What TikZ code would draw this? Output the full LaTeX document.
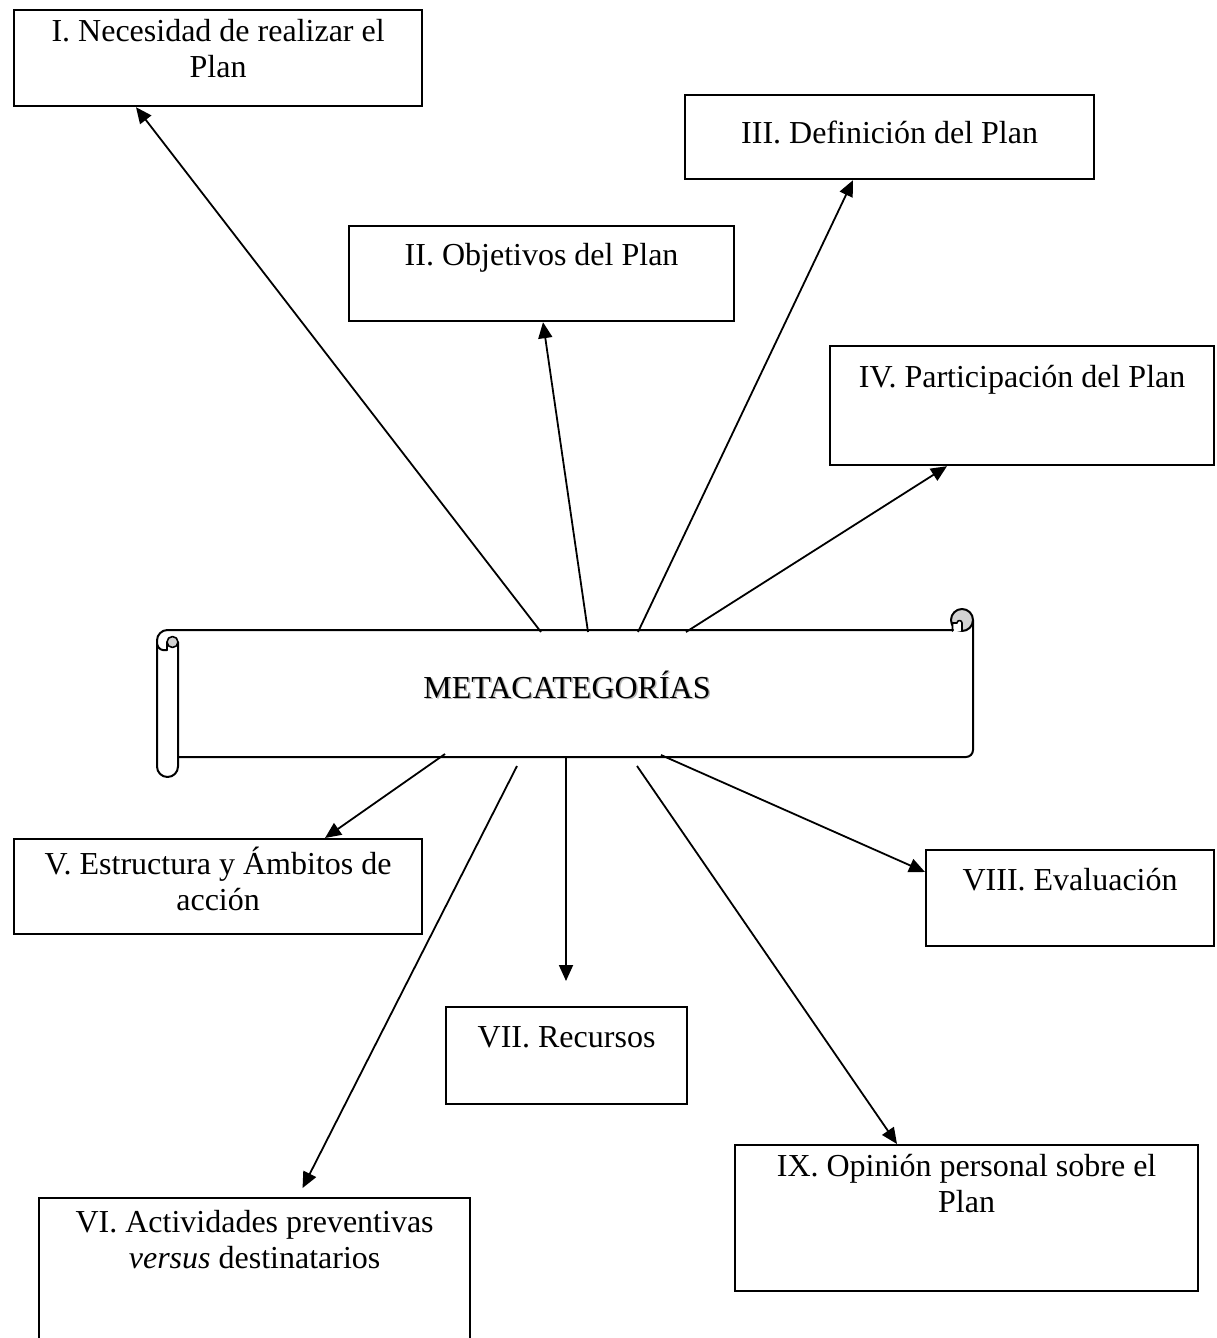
\documentclass[tikz,border=0pt]{standalone}
\usepackage{fontspec}
\setmainfont{Liberation Serif}
\usetikzlibrary{arrows.meta,calc}
\begin{document}
\begin{tikzpicture}[x=1pt,y=-1pt,
  box/.style={draw, line width=2.2pt, inner sep=0pt, anchor=north west},
  lbl/.style={anchor=north, inner sep=0pt, align=center,
    font=\fontsize{32}{36}\selectfont, execute at begin node={\rule{0pt}{30pt}}},
  arr/.style={line width=1.8pt, -{Triangle[length=16pt,width=14pt]}},
  scroll/.style={line width=2pt, line join=round, line cap=round},
  curl/.style={scroll, fill=gray!35}]
\useasboundingbox (0,0) rectangle (1216,1338);

% ---- category boxes ----
\node[box, minimum width=408pt, minimum height=96pt]  (b1) at (13,9) {};
\node[box, minimum width=385pt, minimum height=95pt]  (b2) at (348,225) {};
\node[box, minimum width=409pt, minimum height=84pt]  (b3) at (684,94) {};
\node[box, minimum width=384pt, minimum height=119pt] (b4) at (829,345) {};
\node[box, minimum width=408pt, minimum height=95pt]  (b5) at (13,838) {};
\node[box, minimum width=431pt, minimum height=141pt] (b6) at (38,1197) {};
\node[box, minimum width=241pt, minimum height=97pt]  (b7) at (445,1006) {};
\node[box, minimum width=288pt, minimum height=96pt]  (b8) at (925,849) {};
\node[box, minimum width=463pt, minimum height=146pt] (b9) at (734,1144) {};

\node[lbl] (t1) at ($(b1.north)+(0,10)$) {I. Necesidad de realizar el\\Plan};
\node[lbl] (t2) at ($(b2.north)+(0,10)$) {II. Objetivos del Plan};
\node[lbl] (t3) at ($(b3.north)+(0,19)$) {III. Definición del Plan};
\node[lbl] (t4) at ($(b4.north)+(0,12)$) {IV. Participación del Plan};
\node[lbl] (t5) at ($(b5.north)+(0,9)$)  {V. Estructura y Ámbitos de\\acción};
\node[lbl] (t6) at ($(b6.north)+(0,13)$) {VI. Actividades preventivas\\\textit{versus} destinatarios};
\node[lbl] (t7) at ($(b7.north)+(0,11)$) {VII. Recursos};
\node[lbl] (t8) at ($(b8.north)+(0,11)$) {VIII. Evaluación};
\node[lbl] (t9) at ($(b9.north)+(0,10)$) {IX. Opinión personal sobre el\\Plan};

% ---- central scroll ----
% body outline with the left roll
\draw[scroll] (952,630) -- (167.5,630)
  arc[start angle=270, end angle=180, radius=10.5] -- (157,766.5)
  arc[start angle=180, end angle=0, radius=10.5] -- (178,642);
\draw[scroll] (178,757) -- (966,757)
  arc[start angle=90, end angle=0, radius=7] -- (973,620);
% rolled end on the left
\draw[scroll] (157,644) .. controls (158,649) and (162,651) .. (167,650);
\filldraw[curl, line width=1.6pt] (172.5,642) circle (5.5);
\draw[scroll, line width=1.6pt] (167,642) -- (167,650);
% curl on the right
\filldraw[curl] (962,620) circle (11);
\filldraw[scroll, fill=white, line width=1.6pt] (952.5,631) -- (952.5,623) -- (957,623)
  arc[start angle=180, end angle=360, radius=2.5] -- (962,631);
\draw[scroll] (952,630) -- (953,630);

\node[font=\fontsize{32}{36}\selectfont, anchor=base, text=gray!55, inner sep=0pt]
  (mshadow) at (568.5,699.5) {METACATEGORÍAS};
\node[font=\fontsize{32}{36}\selectfont, anchor=base, inner sep=0pt]
  (mtext) at (567,698) {METACATEGORÍAS};

% ---- connector start points on the scroll ----
\coordinate (s1) at (541,632);
\coordinate (s2) at (588,632);
\coordinate (s3) at (638,632);
\coordinate (s4) at (686,632);
\coordinate (s5) at (445,754);
\coordinate (s6) at (517,766);
\coordinate (s7) at (566,756);
\coordinate (s8) at (661,755);
\coordinate (s9) at (637,766);

% ---- connectors ----
\draw[arr] (s1) -- ($(b1.south west)+(123,0)$);
\draw[arr] (s2) -- ($(b2.south west)+(195,0)$);
\draw[arr] (s3) -- ($(b3.south west)+(169,0)$);
\draw[arr] (s4) -- ($(b4.south west)+(118,0)$);
\draw[arr] (s5) -- ($(b5.north west)+(312,0)$);
\draw[arr, shorten >=10pt] (s6) -- ($(b6.north west)+(260,0)$);
\draw[arr, shorten >=25pt] (s7) -- (b7.north -| s7);
\draw[arr] (s8) -- ($(b8.north west)+(0,23)$);
\draw[arr] (s9) -- ($(b9.north west)+(163,0)$);
\end{tikzpicture}
\end{document}
